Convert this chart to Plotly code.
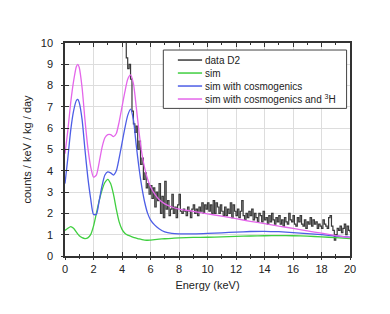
import plotly.graph_objects as go

# ---- data ----
E_sim = [0, 0.2, 0.4, 0.6, 0.8, 0.9, 1.0, 1.2, 1.4, 1.6, 1.8, 2.0, 2.2, 2.4, 2.6, 2.8,
         3.0, 3.2, 3.4, 3.6, 3.8, 4.0, 4.2, 4.4, 4.6, 4.8, 5.0, 5.2, 5.4, 5.6, 5.8, 6.0,
         6.3, 6.6, 7.0, 7.5, 8, 9, 10, 11, 12, 13, 14, 15, 16, 17, 18, 19, 20]

sim = [1.2, 1.3, 1.38, 1.3, 1.12, 1.03, 0.95, 0.86, 0.82, 0.85, 1.0, 1.4, 2.0, 2.6, 3.1, 3.45,
       3.6, 3.4, 2.9, 2.2, 1.6, 1.25, 1.07, 0.98, 0.93, 0.88, 0.84, 0.8, 0.77, 0.75, 0.74, 0.75,
       0.77, 0.79, 0.81, 0.83, 0.85, 0.87, 0.88, 0.9, 0.92, 0.94, 0.95, 0.96, 0.95, 0.93, 0.9, 0.86, 0.82]

sim_cosmo = [3.4, 4.6, 5.9, 6.8, 7.3, 7.35, 7.2, 6.4, 5.0, 3.7, 2.7, 1.95, 1.95, 2.6, 3.3, 3.8,
             3.95, 3.9, 3.8, 4.0, 4.6, 5.3, 6.0, 6.6, 6.9, 6.4, 5.2, 4.1, 3.2, 2.5, 2.0, 1.7,
             1.45, 1.28, 1.13, 1.06, 1.04, 1.04, 1.06, 1.09, 1.12, 1.15, 1.16, 1.14, 1.1, 1.05, 1.0, 0.94, 0.88]

sim_cosmo_h3 = [4.8, 5.9, 7.2, 8.2, 8.9, 9.0, 8.85, 7.9, 6.4, 5.1, 4.2, 3.7, 3.8, 4.4, 5.1, 5.55,
                5.7, 5.7, 5.6, 5.75, 6.3, 7.0, 7.7, 8.3, 8.5, 8.1, 7.0, 5.8, 4.8, 4.1, 3.6, 3.25,
                2.9, 2.65, 2.45, 2.3, 2.2, 2.1, 1.98, 1.87, 1.75, 1.63, 1.52, 1.4, 1.3, 1.18, 1.07, 0.96, 0.86]

E_data = [round(4.2 + 0.1 * i, 1) for i in range(159)]
data_d2 = [11.0, 9.3, 8.8, 9.0, 8.3, 6.8, 6.2, 5.8, 6.1, 5.0,
           5.4, 4.3, 4.6, 3.6, 3.9, 3.2, 3.4, 2.9, 3.3, 2.7,
           3.2, 2.3, 3.0, 2.6, 3.4, 2.0, 2.8, 1.8, 3.5, 2.2,
           2.6, 1.9, 2.2, 2.9, 2.0, 2.3, 1.8, 2.4, 2.9, 2.1,
           2.0, 2.2, 2.1, 1.9, 2.3, 2.1, 1.8, 2.2, 2.4, 2.0,
           2.2, 1.9, 2.3, 2.1, 2.5, 2.0, 2.4, 2.2, 2.5, 2.1,
           2.4, 2.0, 2.6, 2.0, 2.5, 2.3, 2.0, 2.4, 2.1, 1.9,
           2.3, 1.9, 2.2, 2.0, 2.5, 1.8, 2.4, 2.1, 1.9, 2.2,
           1.8, 2.1, 2.6, 1.9, 1.7, 2.0, 1.8, 2.1, 1.9, 2.2,
           1.7, 2.0, 1.8, 1.6, 2.0, 1.9, 1.6, 2.1, 1.7, 1.8,
           1.5, 1.9, 1.6, 2.0, 1.7, 1.5, 1.8, 1.6, 1.9, 1.5,
           1.7, 1.4, 1.8, 1.6, 1.5, 2.0, 1.7, 1.6, 1.9, 1.5,
           1.4, 1.8, 1.6, 1.9, 1.5, 1.4, 1.7, 1.3, 1.6, 1.5,
           1.8, 1.4, 1.7, 1.5, 1.6, 1.3, 1.5, 1.4, 1.3, 1.7,
           1.5, 1.4, 1.3, 1.8, 1.9, 1.4, 1.2, 0.75, 1.0, 1.3,
           1.2, 1.4, 1.1, 1.3, 1.5, 1.0, 1.4, 1.2, 1.1]

x_ticks = [0, 2, 4, 6, 8, 10, 12, 14, 16, 18, 20]
x_minor = [1, 3, 5, 7, 9, 11, 13, 15, 17, 19]
y_ticks = list(range(11))

labels = ["data D2", "sim", "sim with cosmogenics", "sim with cosmogenics and <sup>3</sup>H"]
colors = ["#3a3a3a", "#3fcf3f", "#4d5ee6", "#e466ea"]

fig = go.Figure()
fig.add_trace(go.Scatter(x=E_data, y=data_d2, mode="lines", line=dict(color=colors[0], width=1.2, shape="hv"),
                         name=labels[0]))
fig.add_trace(go.Scatter(x=E_sim, y=sim, mode="lines", line=dict(color=colors[1], width=1.3, shape="spline", smoothing=0.6),
                         name=labels[1]))
fig.add_trace(go.Scatter(x=E_sim, y=sim_cosmo, mode="lines", line=dict(color=colors[2], width=1.3, shape="spline", smoothing=0.6),
                         name=labels[2]))
fig.add_trace(go.Scatter(x=E_sim, y=sim_cosmo_h3, mode="lines", line=dict(color=colors[3], width=1.3, shape="spline", smoothing=0.6),
                         name=labels[3]))
# invisible trace on secondary axes to carry outside tick marks
fig.add_trace(go.Scatter(x=[0], y=[0], xaxis="x2", yaxis="y2", mode="markers",
                         marker=dict(opacity=0), showlegend=False, hoverinfo="skip"))

# manual compact legend (paper coordinates)
shapes = [dict(type="rect", xref="paper", yref="paper", x0=0.345, x1=0.988, y0=0.693, y1=0.967,
               line=dict(color="#444444", width=1), fillcolor="white", layer="above")]
annotations = []
row_top = 0.920
row_step = 0.061
for i, (lab, col) in enumerate(zip(labels, colors)):
    yy = row_top - i * row_step
    shapes.append(dict(type="line", xref="paper", yref="paper", x0=0.396, x1=0.481, y0=yy, y1=yy,
                       line=dict(color=col, width=1.5), layer="above"))
    annotations.append(dict(xref="paper", yref="paper", x=0.484, y=yy, xanchor="left", yanchor="middle",
                            text=lab, showarrow=False, font=dict(size=10, color="#222222")))

font = "Liberation Sans, Arial, sans-serif"
fig.update_layout(
    width=374, height=298,
    margin=dict(l=57, r=32, t=35, b=50, autoexpand=False),
    paper_bgcolor="white", plot_bgcolor="white",
    font=dict(family=font, size=11, color="#222222"),
    showlegend=False,
    shapes=shapes, annotations=annotations,
    xaxis=dict(range=[0, 20], tickvals=x_ticks, automargin=False,
               ticks="inside", ticklen=4, tickwidth=1.2, tickcolor="#333333",
               showline=True, linecolor="#333333", linewidth=1.5, mirror="ticks",
               showgrid=True, gridcolor="#dddddd", gridwidth=1, zeroline=False,
               minor=dict(tickvals=x_minor, ticks="inside", ticklen=2,
                          tickcolor="#333333", showgrid=False),
               title=dict(text="Energy (keV)", standoff=7, font=dict(size=11)),
               ticklabelstandoff=2,
               tickfont=dict(size=11)),
    yaxis=dict(range=[0, 10], tickvals=y_ticks, automargin=False,
               ticks="inside", ticklen=4, tickwidth=1.2, tickcolor="#333333",
               showline=True, linecolor="#333333", linewidth=1.5, mirror=True,
               showgrid=True, gridcolor="#dddddd", gridwidth=1, zeroline=False,
               title=dict(text="counts / keV / kg / day", standoff=7, font=dict(size=11)),
               ticklabelstandoff=8,
               tickfont=dict(size=11)),
    xaxis2=dict(overlaying="x", side="bottom", range=[0, 20], automargin=False,
                tickvals=x_ticks, ticks="outside", ticklen=3,
                tickwidth=1.2, tickcolor="#333333", showticklabels=False, showgrid=False,
                zeroline=False, showline=False,
                minor=dict(tickvals=x_minor, ticks="outside", ticklen=2,
                           tickcolor="#333333")),
    yaxis2=dict(overlaying="y", side="left", range=[0, 10], tickvals=y_ticks, automargin=False,
                ticks="outside", ticklen=3, tickwidth=1.2, tickcolor="#333333",
                showticklabels=False, showgrid=False, zeroline=False, showline=False),
)

fig.write_html("out.html")
